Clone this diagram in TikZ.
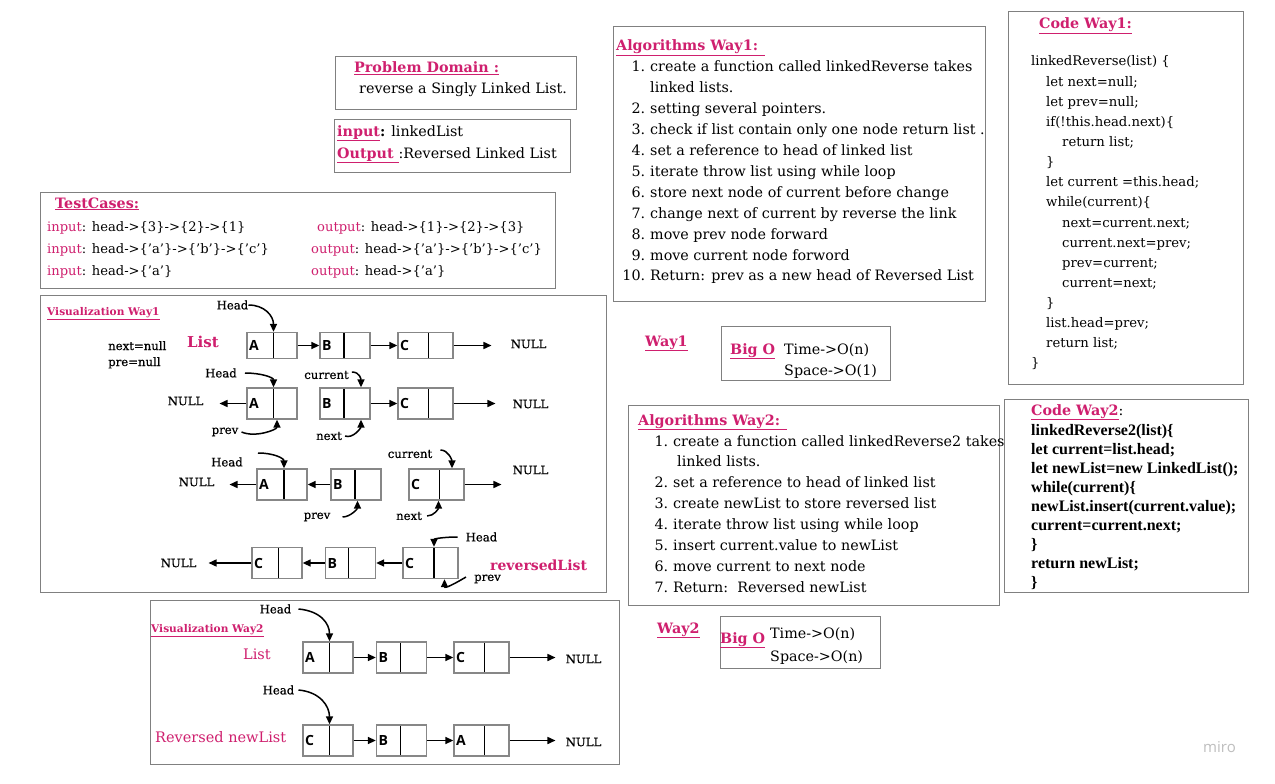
\documentclass[tikz,border=0pt]{standalone}
\usepackage{fontspec}
\setmainfont{DejaVu Serif}
\newfontfamily\boxfont{Open Sans}
\newfontfamily\codebfont{Liberation Serif}
\newfontfamily\labfont{DejaVu Serif}[FakeBold=0.6]
\usetikzlibrary{arrows.meta,fit,calc}
\definecolor{mag}{RGB}{207,31,110}
\definecolor{edge}{RGB}{128,128,128}
\definecolor{boxedge}{RGB}{135,135,135}
\definecolor{wm}{RGB}{190,190,190}
\newcommand\indA{\hspace*{15pt}}
\newcommand\indB{\hspace*{31pt}}
\newcommand\numb[1]{\makebox[20pt][r]{#1}\hspace{5pt}}
\begin{document}
\begin{tikzpicture}[x=1pt,y=-1pt,
  panel/.style={draw=edge, line width=0.9pt, inner sep=0pt},
  body/.style={anchor=base west, inner sep=0pt, font=\fontsize{14.3}{20.9}\selectfont},
  tcase/.style={anchor=base west, inner sep=0pt, font=\fontsize{13.1}{20.9}\selectfont},
  ttl/.style={anchor=base west, inner sep=0pt, text=mag, font=\fontsize{14.3}{20.9}\selectfont\bfseries},
  lab/.style={inner sep=0pt, font=\labfont\fontsize{11.7}{14}\selectfont},
  vt/.style={anchor=base west, inner sep=0pt, text=mag, font=\fontsize{10.6}{12}\selectfont\bfseries},
  lbox/.style={draw=boxedge, line width=1.3pt, minimum width=50pt, minimum height=31pt,
    inner sep=0pt, text width=46pt, align=left,
    font=\boxfont\bfseries\fontsize{14}{14}\selectfont,
    path picture={\draw[line width=1.7pt, black]
      ([xshift=#1]path picture bounding box.north west) --
      ([xshift=#1]path picture bounding box.south west);}},
  lbox/.default=26.5pt,
  wbox/.style={lbox=#1, minimum width=55pt, text width=51pt},
  wbox/.default=30.5pt,
  short/.style={minimum height=26pt},
  ptr/.style={line width=1.5pt, -{Triangle[length=8pt,width=7pt]}}
]
\useasboundingbox[fill=white] (0,0) rectangle (1275,784);

% ---------------- panels ----------------
\node[panel, fit={(335,56)(576,109)}] (pd) {};
\node[panel, fit={(334,119)(570,172)}] (io) {};
\node[panel, fit={(40,192)(555,288)}] (tc) {};
\node[panel, fit={(40,295)(606,592)}] (v1) {};
\node[panel, fit={(150,600)(619,764)}] (v2) {};
\node[panel, fit={(613,26)(985,301)}] (a1) {};
\node[panel, fit={(721,326)(890,380)}] (bo1) {};
\node[panel, fit={(628,405)(999,605)}] (a2) {};
\node[panel, fit={(720,616)(880,668)}] (bo2) {};
\node[panel, fit={(1008,11)(1243,384)}] (c1) {};
\node[panel, fit={(1004,399)(1248,592)}] (c2) {};

% ---------------- problem domain ----------------
\node[ttl] (pdt) at (354,73) {\underline{Problem Domain :}};
\node[body] (pdb) at (359,93) {reverse a Singly Linked List.};

\node[body] (in) at (337,136) {\textbf{\textcolor{mag}{\underline{input}}:} linkedList};
\node[body] (out) at (337,158) {\textbf{\textcolor{mag}{\underline{Output\ }}}:Reversed Linked List};

% ---------------- test cases ----------------
\node[ttl] (tct) at (55,208) {\underline{TestCases:}};
\node[tcase] (ti1) at (47,231) {\textcolor{mag}{input}: head->\{3\}->\{2\}->\{1\}};
\node[tcase] (ti2) at (47,253) {\textcolor{mag}{input}: head->\{'a'\}->\{'b'\}->\{'c'\}};
\node[tcase] (ti3) at (47,275) {\textcolor{mag}{input}: head->\{'a'\}};
\node[tcase] (to1) at (317,231) {\textcolor{mag}{output}: head->\{1\}->\{2\}->\{3\}};
\node[tcase] (to2) at (311,253) {\textcolor{mag}{output}: head->\{'a'\}->\{'b'\}->\{'c'\}};
\node[tcase] (to3) at (311,275) {\textcolor{mag}{output}: head->\{'a'\}};

% ---------------- algorithms way1 ----------------
\node[ttl] (a1t) at (616,51) {\underline{Algorithms Way1: }};
\node[body] (a1l) at (625,72) {\begin{tabular}[t]{@{}l@{}}
\numb{1.}create a function called linkedReverse takes\\
\hspace*{25pt}linked lists.\\
\numb{2.}setting several pointers.\\
\numb{3.}check if list contain only one node return list .\\
\numb{4.}set a reference to head of linked list\\
\numb{5.}iterate throw list using while loop\\
\numb{6.}store next node of current before change\\
\numb{7.}change next of current by reverse the link\\
\numb{8.}move prev node forward\\
\numb{9.}move current node forword\\
\numb{10.}Return: prev as a new head of Reversed List
\end{tabular}};

% ---------------- big O way1 ----------------
\node[ttl] (w1) at (645,346) {\underline{Way1}};
\node[ttl] (bo1t) at (730,354) {\underline{Big O}};
\node[body] (bo1a) at (784,354) {Time->O(n)};
\node[body] (bo1b) at (784,375) {Space->O(1)};

% ---------------- algorithms way2 ----------------
\node[ttl] (a2t) at (638,425) {\underline{Algorithms Way2: }};
\node[body] (a2l) at (648,446) {\begin{tabular}[t]{@{}l@{}}
\numb{1.}create a function called linkedReverse2 takes\\
\hspace*{29pt}linked lists.\\
\numb{2.}set a reference to head of linked list\\
\numb{3.}create newList to store reversed list\\
\numb{4.}iterate throw list using while loop\\
\numb{5.}insert current.value to newList\\
\numb{6.}move current to next node\\
\numb{7.}Return:\ \ Reversed newList
\end{tabular}};

% ---------------- big O way2 ----------------
\node[ttl] (w2) at (657,633) {\underline{Way2}};
\node[ttl] (bo2t) at (720,643) {\underline{Big O}};
\node[body] (bo2a) at (770,638) {Time->O(n)};
\node[body] (bo2b) at (770,661) {Space->O(n)};

% ---------------- code way1 ----------------
\node[ttl] (c1t) at (1039,29) {\underline{Code Way1:}};
\node[body, font=\fontsize{13.2}{20.13}\selectfont] (c1l) at (1031,66) {\begin{tabular}[t]{@{}l@{}}
linkedReverse(list) \{\\
\indA let next=null;\\
\indA let prev=null;\\
\indA if(!this.head.next)\{\\
\indB return list;\\
\indA \}\\
\indA let current =this.head;\\
\indA while(current)\{\\
\indB next=current.next;\\
\indB current.next=prev;\\
\indB prev=current;\\
\indB current=next;\\
\indA \}\\
\indA list.head=prev;\\
\indA return list;\\
\}
\end{tabular}};

% ---------------- code way2 ----------------
\node[body] (c2t) at (1031,415) {\textcolor{mag}{\textbf{\underline{Code Way2}}}:};
\node[body, font=\codebfont\bfseries\fontsize{16}{19}\selectfont] (c2l) at (1031,435) {\begin{tabular}[t]{@{}l@{}}
linkedReverse2(list)\{\\
let current=list.head;\\
let newList=new LinkedList();\\
while(current)\{\\
newList.insert(current.value);\\
current=current.next;\\
\}\\
return newList;\\
\}
\end{tabular}};

% ---------------- visualization way1 ----------------
\node[vt] (vt1) at (47,315) {\underline{Visualization Way1}};
\node[lab] (hd1) at (232.5,305) {Head};
\node[lab, anchor=base west] (nn) at (108,350) {next=null};
\node[lab, anchor=base west] (pn) at (108,366) {pre=null};
\node[ttl, font=\fontsize{15}{18}\selectfont\bfseries] (lst1) at (187,347) {List};
\node[lab] (n1) at (528.5,344) {NULL};

\node[lbox,short] (A1) at (272,345.5) {A};
\node[lbox=24pt,short] (B1) at (345,345.5) {B};
\node[wbox,short] (C1) at (425.5,345.5) {C};
\draw[ptr] (A1.east) -- (B1.west);
\draw[ptr] (B1.east) -- (C1.west);
\draw[ptr,shorten >=19pt] (C1.east) -- (C1.east -| n1.west);
\draw[ptr] (hd1.east) .. controls +(16,0) and +(0,-16) .. ([xshift=1.5pt]A1.north);

% row 2
\node[lab] (hd2) at (221,373) {Head};
\node[lab] (cur2) at (326.5,375) {current};
\node[lab] (n2l) at (185.5,401) {NULL};
\node[lab] (n2r) at (530.5,404) {NULL};
\node[lab] (pv2) at (225,432) {prev};
\node[lab] (nx2) at (329,436) {next};
\node[lbox] (A2) at (272,403.5) {A};
\node[lbox=24pt] (B2) at (345,403.5) {B};
\node[wbox] (C2) at (425.5,403.5) {C};
\draw[ptr,shorten >=16pt] (A2.west) -- (A2.west -| n2l.east);
\draw[ptr] (B2.east) -- (C2.west);
\draw[ptr,shorten >=17pt] (C2.east) -- (C2.east -| n2r.west);
\draw[ptr] ([xshift=8pt]hd2.east) .. controls +(16,0) and +(0,-10) .. ([xshift=1.5pt]A2.north);
\draw[ptr] ([xshift=3pt,yshift=3pt]cur2.east) .. controls +(8,0) and +(0,-8) .. ([xshift=16pt]B2.north);
\draw[ptr] ([xshift=3pt]pv2.east) .. controls +(14,6) and +(0,10) .. ([xshift=5pt]A2.south);
\draw[ptr] ([xshift=3pt]nx2.east) .. controls +(8,3) and +(0,8) .. ([xshift=16pt]B2.south);

% row 3
\node[lab] (hd3) at (227,462) {Head};
\node[lab] (cur3) at (410,454) {current};
\node[lab] (n3l) at (196.5,482) {NULL};
\node[lab] (n3r) at (530.5,470) {NULL};
\node[lab] (pv3) at (317,517) {prev};
\node[lab] (nx3) at (409,516) {next};
\node[lbox=27pt] (A3) at (282,484.5) {A};
\node[lbox=24pt] (B3) at (356,484.5) {B};
\node[wbox] (C3) at (436.5,484.5) {C};
\draw[ptr,shorten >=15pt] (A3.west) -- (A3.west -| n3l.east);
\draw[ptr] (B3.west) -- (A3.east);
\draw[ptr,shorten >=11pt] (C3.east) -- (C3.east -| n3r.west);
\draw[ptr] ([xshift=15pt,yshift=9pt]hd3.east) .. controls +(16,0) and +(0,-10) .. ([xshift=2pt]A3.north);
\draw[ptr] ([xshift=8pt,yshift=4pt]cur3.east) .. controls +(8,0) and +(0,-8) .. ([xshift=15.5pt]C3.north);
\draw[ptr] ([xshift=12pt]pv3.east) .. controls +(8,0) and +(0,8) .. ([xshift=1.5pt]B3.south);
\draw[ptr] ([xshift=5pt]nx3.east) .. controls +(7,0) and +(0,8) .. ([xshift=2pt]C3.south);

% row 4
\node[lab] (hd4) at (481.5,537) {Head};
\node[lab] (pv4) at (487.5,579) {prev};
\node[lab] (n4l) at (178.5,563) {NULL};
\node[ttl, font=\fontsize{14}{18}\selectfont\bfseries] (rl) at (490,570) {reversedList};
\node[lbox] (C4a) at (277,563) {C};
\node[lbox=23pt] (B4) at (350.5,563) {B};
\node[wbox=31pt] (C4b) at (430.5,563) {C};
\draw[ptr,shorten >=12pt] (C4a.west) -- (C4a.west -| n4l.east);
\draw[ptr] (B4.west) -- (C4a.east);
\draw[ptr] (C4b.west) -- (B4.east);
\draw[ptr] ([xshift=-8pt]hd4.west) .. controls +(-14,0) and +(0,-8) .. ([xshift=3.5pt]C4b.north);
\draw[ptr] ([xshift=-8pt,yshift=2pt]pv4.west) .. controls +(-10,6) and +(0,10) .. ([xshift=14pt]C4b.south);

% ---------------- visualization way2 ----------------
\node[vt] (vt2) at (151,632) {\underline{Visualization Way2}};
\node[lab] (hd5) at (275.5,609) {Head};
\node[ttl, font=\fontsize{14.5}{18}\selectfont] (lst5) at (243,659) {List};
\node[lab] (n5) at (583.5,659) {NULL};
\node[lbox] (A5) at (328,657.5) {A};
\node[lbox=24pt] (B5) at (401.5,657.5) {B};
\node[wbox] (C5) at (481.5,657.5) {C};
\draw[ptr] (A5.east) -- (B5.west);
\draw[ptr] (B5.east) -- (C5.west);
\draw[ptr,shorten >=10pt] (C5.east) -- (C5.east -| n5.west);
\draw[ptr] ([xshift=7pt]hd5.east) .. controls +(22,2) and +(0,-18) .. ([xshift=1.5pt]A5.north);

\node[lab] (hd6) at (278.5,690) {Head};
\node[ttl, font=\fontsize{14.5}{18}\selectfont] (rnl) at (155,742) {Reversed newList};
\node[lab] (n6) at (583.5,742) {NULL};
\node[lbox] (C6) at (328,740.5) {C};
\node[lbox=24pt] (B6) at (401.5,740.5) {B};
\node[wbox] (A6) at (481.5,740.5) {A};
\draw[ptr] (C6.east) -- (B6.west);
\draw[ptr] (B6.east) -- (A6.west);
\draw[ptr,shorten >=10pt] (A6.east) -- (A6.east -| n6.west);
\draw[ptr] ([xshift=4pt]hd6.east) .. controls +(22,2) and +(0,-18) .. ([xshift=1.5pt]C6.north);

% watermark
\node[anchor=base west, inner sep=0pt, text=wm, font=\boxfont\fontsize{15}{15}\selectfont] (miro) at (1203,752) {miro};
\end{tikzpicture}
\end{document}
